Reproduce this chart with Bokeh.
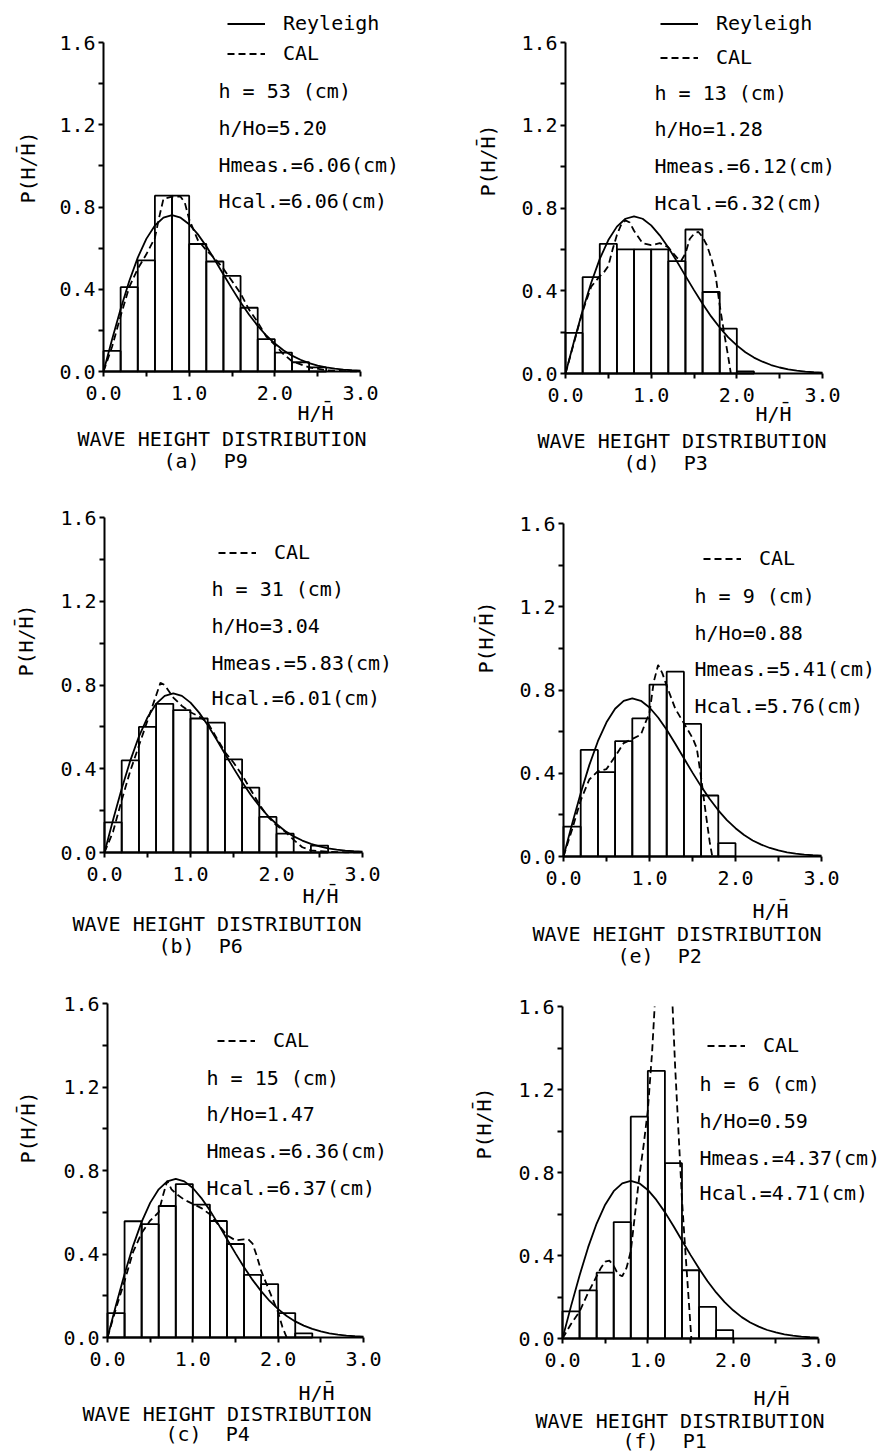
import math
from bokeh.plotting import figure
from bokeh.layouts import column, row
from bokeh.models import (Label, Legend, LegendItem, FixedTicker,
                          PrintfTickFormatter, Range1d)
from bokeh.embed import file_html
from bokeh.resources import INLINE

# ---------------- data ----------------
bin_lo = [0.0, 0.2, 0.4, 0.6, 0.8, 1.0, 1.2, 1.4, 1.6, 1.8, 2.0, 2.2, 2.4]
bin_w = 0.2

bars_a = [0.10, 0.41, 0.54, 0.855, 0.855, 0.62, 0.535, 0.465, 0.31, 0.157, 0.092, 0.045, 0.02]
bars_b = [0.144, 0.44, 0.60, 0.71, 0.68, 0.64, 0.62, 0.445, 0.31, 0.17, 0.09, 0.0, 0.033]
bars_c = [0.117, 0.557, 0.543, 0.63, 0.735, 0.637, 0.558, 0.448, 0.30, 0.256, 0.117, 0.02]
bars_d = [0.196, 0.466, 0.627, 0.60, 0.60, 0.60, 0.543, 0.696, 0.394, 0.217, 0.01]
bars_e = [0.144, 0.512, 0.405, 0.554, 0.664, 0.826, 0.888, 0.637, 0.293, 0.064]
bars_f = [0.131, 0.232, 0.317, 0.561, 1.069, 1.29, 0.845, 0.329, 0.152, 0.04]

# Rayleigh curve (identical in all panels)
ray_x = [0.0, 0.1, 0.2, 0.3, 0.4, 0.5, 0.6, 0.7, 0.8, 0.9, 1.0, 1.1, 1.2, 1.3, 1.4,
         1.5, 1.6, 1.7, 1.8, 1.9, 2.0, 2.1, 2.2, 2.3, 2.4, 2.5, 2.6, 2.7, 2.8, 2.9, 3.0]
ray_y = [0.0, 0.156, 0.304, 0.439, 0.554, 0.645, 0.710, 0.748, 0.760, 0.748, 0.716,
         0.668, 0.609, 0.542, 0.472, 0.403, 0.337, 0.276, 0.222, 0.175, 0.136, 0.103,
         0.077, 0.057, 0.041, 0.029, 0.020, 0.014, 0.009, 0.006, 0.004]

# CAL (dashed) curves
cal_a_x = [0, 0.1, 0.2, 0.3, 0.4, 0.5, 0.6, 0.65, 0.7, 0.8, 0.9, 0.95, 1.0, 1.1, 1.2, 1.3,
           1.4, 1.5, 1.6, 1.7, 1.8, 1.9, 2.0, 2.1, 2.2, 2.4, 2.6, 2.8, 3.0]
cal_a_y = [0, 0.12, 0.27, 0.41, 0.50, 0.57, 0.65, 0.75, 0.84, 0.85, 0.85, 0.82, 0.74, 0.64,
           0.59, 0.55, 0.50, 0.44, 0.38, 0.30, 0.24, 0.17, 0.13, 0.085, 0.05, 0.02, 0.006,
           0.002, 0]
cal_b_x = [0, 0.1, 0.2, 0.3, 0.4, 0.5, 0.6, 0.65, 0.7, 0.8, 0.9, 1.0, 1.1, 1.2, 1.3, 1.4,
           1.5, 1.6, 1.7, 1.8, 1.9, 2.0, 2.1, 2.2, 2.3, 2.4, 2.6, 2.8, 3.0]
cal_b_y = [0, 0.10, 0.25, 0.39, 0.51, 0.63, 0.75, 0.81, 0.80, 0.74, 0.70, 0.67, 0.65, 0.62,
           0.55, 0.48, 0.43, 0.37, 0.30, 0.23, 0.17, 0.13, 0.10, 0.06, 0.025, 0.01, 0.004,
           0.001, 0]
cal_c_x = [0, 0.1, 0.2, 0.3, 0.4, 0.5, 0.6, 0.65, 0.7, 0.75, 0.8, 0.9, 1.0, 1.1, 1.2, 1.3,
           1.4, 1.5, 1.6, 1.65, 1.7, 1.75, 1.8, 1.9, 2.0, 2.05, 2.1]
cal_c_y = [0, 0.14, 0.27, 0.41, 0.50, 0.56, 0.60, 0.68, 0.75, 0.71, 0.69, 0.66, 0.64, 0.62,
           0.59, 0.54, 0.49, 0.465, 0.47, 0.47, 0.45, 0.39, 0.32, 0.22, 0.12, 0.05, 0]
cal_d_x = [0, 0.1, 0.2, 0.3, 0.4, 0.45, 0.5, 0.55, 0.6, 0.65, 0.7, 0.75, 0.8, 0.9, 1.0, 1.1,
           1.2, 1.3, 1.35, 1.4, 1.45, 1.5, 1.55, 1.6, 1.65, 1.7, 1.75, 1.8, 1.85, 1.9, 1.93]
cal_d_y = [0, 0.15, 0.30, 0.42, 0.47, 0.49, 0.52, 0.60, 0.67, 0.72, 0.74, 0.73, 0.69, 0.63,
           0.62, 0.63, 0.61, 0.56, 0.545, 0.58, 0.65, 0.675, 0.685, 0.66, 0.62, 0.56, 0.48,
           0.33, 0.20, 0.08, 0]
cal_e_x = [0, 0.1, 0.2, 0.3, 0.4, 0.5, 0.6, 0.7, 0.8, 0.9, 0.95, 1.0, 1.05, 1.1, 1.15, 1.2,
           1.3, 1.4, 1.5, 1.55, 1.6, 1.65, 1.7, 1.73]
cal_e_y = [0, 0.13, 0.27, 0.37, 0.41, 0.42, 0.48, 0.545, 0.565, 0.585, 0.64, 0.69, 0.84,
           0.92, 0.88, 0.82, 0.71, 0.64, 0.57, 0.52, 0.38, 0.22, 0.07, 0]
cal_f_x = [0, 0.1, 0.2, 0.3, 0.4, 0.45, 0.5, 0.55, 0.6, 0.65, 0.7, 0.75, 0.8, 0.85, 0.9,
           0.95, 1.0, 1.05, 1.08, float("nan"), 1.29, 1.32, 1.36, 1.4, 1.44, 1.48, 1.51]
cal_f_y = [0, 0.07, 0.13, 0.22, 0.30, 0.34, 0.37, 0.375, 0.35, 0.31, 0.30, 0.34, 0.42, 0.60,
           0.78, 0.93, 1.10, 1.38, 1.6, float("nan"), 1.6, 1.31, 0.99, 0.67, 0.42, 0.18, 0]

x_ticks = [0.0, 1.0, 2.0, 3.0]
x_minor = [0.5, 1.5, 2.5]
y_ticks = [0.0, 0.4, 0.8, 1.2, 1.6]
y_minor = [0.2, 0.6, 1.0, 1.4]
X_MAX, Y_MAX = 3.0, 1.6

NB = "\u00a0"
panels = [
    dict(key="a", bars=bars_a, cx=cal_a_x, cy=cal_a_y, ray_legend=True,
         stats=["h = 53 (cm)", "h/Ho=5.20", "Hmeas.=6.06(cm)", "Hcal.=6.06(cm)"],
         caption="(a)" + NB * 2 + "P9"),
    dict(key="d", bars=bars_d, cx=cal_d_x, cy=cal_d_y, ray_legend=True,
         stats=["h = 13 (cm)", "h/Ho=1.28", "Hmeas.=6.12(cm)", "Hcal.=6.32(cm)"],
         caption="(d)" + NB * 2 + "P3"),
    dict(key="b", bars=bars_b, cx=cal_b_x, cy=cal_b_y, ray_legend=False,
         stats=["h = 31 (cm)", "h/Ho=3.04", "Hmeas.=5.83(cm)", "Hcal.=6.01(cm)"],
         caption="(b)" + NB * 2 + "P6"),
    dict(key="e", bars=bars_e, cx=cal_e_x, cy=cal_e_y, ray_legend=False,
         stats=["h = 9 (cm)", "h/Ho=0.88", "Hmeas.=5.41(cm)", "Hcal.=5.76(cm)"],
         caption="(e)" + NB * 2 + "P2"),
    dict(key="c", bars=bars_c, cx=cal_c_x, cy=cal_c_y, ray_legend=False,
         stats=["h = 15 (cm)", "h/Ho=1.47", "Hmeas.=6.36(cm)", "Hcal.=6.37(cm)"],
         caption="(c)" + NB * 2 + "P4"),
    dict(key="f", bars=bars_f, cx=cal_f_x, cy=cal_f_y, ray_legend=False,
         stats=["h = 6 (cm)", "h/Ho=0.59", "Hmeas.=4.37(cm)", "Hcal.=4.71(cm)"],
         caption="(f)" + NB * 2 + "P1"),
]

# ---------------- layout (page pixels) ----------------
# fig: (x, y, w, h) of the figure on the page; plot: pixel box of the 0..3 x 0..1.6 area
geom = {
    "a": dict(fig=(0, 0, 440, 475), plot=(103, 42, 257, 329),
              leg=(227, 23, 53), stats=(218, [90, 127, 164, 200]),
              ylab=(27, 167), xlab=(297, 412), cap1=(77, 438), cap2=(163, 460)),
    "d": dict(fig=(440, 0, 440, 475), plot=(565, 42, 257, 331),
              leg=(660, 23, 57), stats=(654, [92, 128, 165, 202]),
              ylab=(487, 160), xlab=(755, 413), cap1=(537, 440), cap2=(623, 462)),
    "b": dict(fig=(0, 475, 440, 500), plot=(104, 517, 258, 335),
              leg=(218, None, 552), stats=(211, [588, 625, 662, 697]),
              ylab=(25, 640), xlab=(302, 895), cap1=(72, 923), cap2=(158, 945)),
    "e": dict(fig=(440, 475, 440, 500), plot=(563, 523, 258, 333),
              leg=(703, None, 558), stats=(694, [595, 632, 668, 705]),
              ylab=(485, 637), xlab=(752, 910), cap1=(532, 933), cap2=(617, 955)),
    "c": dict(fig=(0, 975, 440, 479), plot=(107, 1003, 256, 334),
              leg=(217, None, 1040), stats=(206, [1077, 1113, 1150, 1187]),
              ylab=(27, 1127), xlab=(298, 1392), cap1=(82, 1413), cap2=(165, 1433)),
    "f": dict(fig=(440, 975, 440, 479), plot=(562, 1006, 256, 332),
              leg=(707, None, 1045), stats=(699, [1083, 1120, 1157, 1192]),
              ylab=(483, 1123), xlab=(753, 1397), cap1=(535, 1420), cap2=(622, 1440)),
}

FONT = "DejaVu Sans Mono"
FS = "20px"


def build(pn):
    g = geom[pn["key"]]
    fx, fy, fw_, fh_ = g["fig"]
    pl, pt, pw, ph = g["plot"]
    pb = pt + ph
    kx = pw / X_MAX   # px per unit
    ky = ph / Y_MAX

    def to_data(px, py):
        return (px - pl) / kx, (pb - py) / ky

    x0, y1 = to_data(fx, fy)
    x1, y0 = to_data(fx + fw_, fy + fh_)

    p = figure(width=fw_, height=fh_, x_range=Range1d(x0, x1), y_range=Range1d(y0, y1),
               output_backend="svg", toolbar_location=None, tools="",
               min_border=0, min_border_left=0, min_border_right=0,
               min_border_top=0, min_border_bottom=0)
    p.outline_line_color = None
    p.background_fill_color = "white"
    p.border_fill_color = "white"
    p.grid.visible = False

    xa, ya = p.xaxis[0], p.yaxis[0]
    xa.fixed_location = 0
    ya.fixed_location = 0
    xa.bounds = (0, X_MAX)
    ya.bounds = (0, Y_MAX)
    for ax, tk, mn in ((xa, x_ticks, x_minor), (ya, y_ticks, y_minor)):
        ax.ticker = FixedTicker(ticks=tk, minor_ticks=mn)
        ax.formatter = PrintfTickFormatter(format="%.1f")
        ax.axis_line_width = 2
        ax.axis_line_color = "black"
        ax.major_tick_line_width = 2
        ax.minor_tick_line_width = 2
        ax.major_tick_in = 0
        ax.major_tick_out = 5
        ax.minor_tick_in = 0
        ax.minor_tick_out = 5
        ax.major_label_text_font = FONT
        ax.major_label_text_font_size = FS
        ax.major_label_text_color = "black"
    xa.major_label_standoff = 9
    ya.major_label_standoff = 3

    n = len(pn["bars"])
    lefts = bin_lo[:n]
    rights = [b + bin_w for b in lefts]
    p.quad(left=lefts, right=rights, bottom=0, top=pn["bars"], fill_alpha=0,
           line_color="black", line_width=1.8)
    r_ray = p.line(ray_x, ray_y, line_color="black", line_width=1.8)
    r_cal = p.line(pn["cx"], pn["cy"], line_color="black", line_width=1.8,
                   line_dash="7 4")

    lx, ly_ray, ly_cal = g["leg"]
    items = []
    if pn["ray_legend"]:
        items.append(LegendItem(label="Reyleigh", renderers=[r_ray]))
        spacing = (ly_cal - ly_ray) - 25
    else:
        spacing = 0
    items.append(LegendItem(label="CAL", renderers=[r_cal]))
    bottom = ly_cal + 12.5
    leg = Legend(items=items, location=(lx - fx, fy + fh_ - bottom),
                 glyph_width=38, glyph_height=25, label_height=25, label_standoff=18,
                 spacing=spacing, padding=0, margin=0, border_line_color=None,
                 background_fill_alpha=0, label_text_font=FONT, label_text_font_size=FS,
                 label_text_color="black")
    p.add_layout(leg)

    def lab(pos, txt, align="left", angle=0.0):
        dx, dy = to_data(*pos)
        p.add_layout(Label(x=dx, y=dy, text=txt, angle=angle, text_font=FONT,
                           text_font_size=FS, text_align=align, text_baseline="middle",
                           text_color="black"))

    sx, sys_ = g["stats"]
    for txt, yy in zip(pn["stats"], sys_):
        lab((sx, yy), txt)
    lab(g["ylab"], "P(H/H\u0304)", align="center", angle=math.pi / 2)
    lab(g["xlab"], "H/H\u0304")
    lab(g["cap1"], "WAVE HEIGHT DISTRIBUTION")
    lab(g["cap2"], pn["caption"])
    return p


figs = {pn["key"]: build(pn) for pn in panels}
layout = column(row(figs["a"], figs["d"]), row(figs["b"], figs["e"]),
                row(figs["c"], figs["f"]))

open("out.html", "w").write(file_html(layout, INLINE))
